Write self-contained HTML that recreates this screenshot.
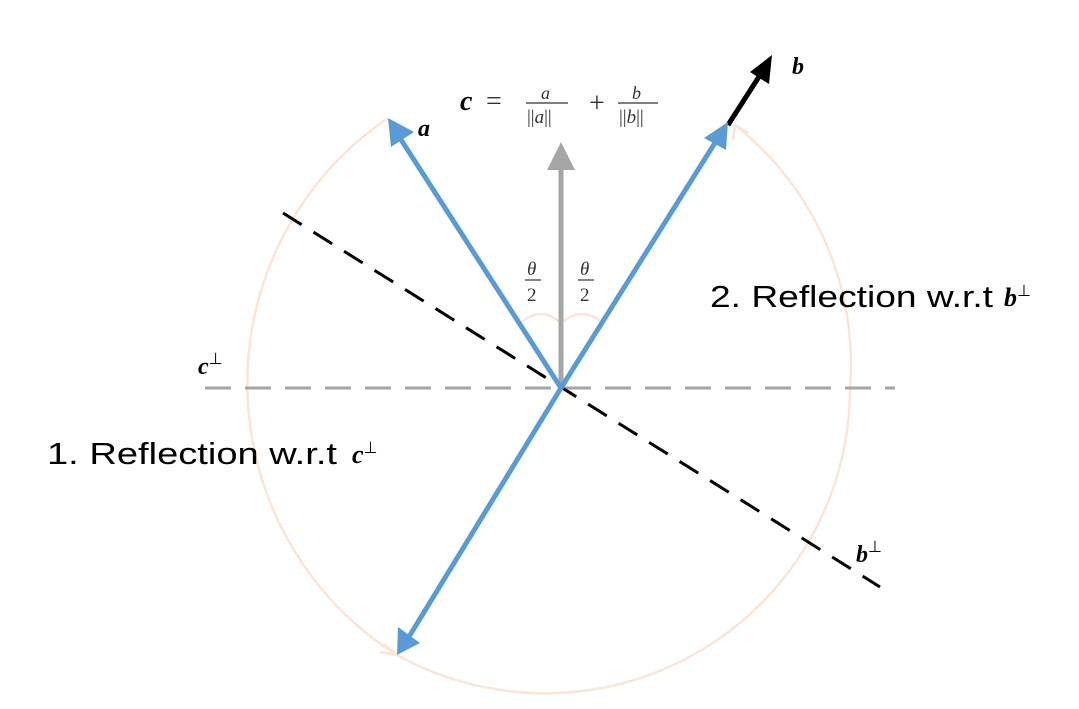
<!DOCTYPE html>
<html><head><style>body{margin:0;background:#fff}</style></head><body>
<svg width="1079" height="704" viewBox="0 0 1079 704" xmlns="http://www.w3.org/2000/svg" font-family="Liberation Serif, serif">
<path d="M388,118 A321,321 0 0 0 397,655" fill="none" stroke="#fbe5d6" stroke-width="2.5"/>
<path d="M397,655 A305,305 0 0 0 850,388 A305,305 0 0 0 735,125" fill="none" stroke="#fbe5d6" stroke-width="2.5"/>
<path d="M384,644 L397,655 L380,652" fill="none" stroke="#fbe5d6" stroke-width="2.5"/>
<path d="M733,140 L735,125 L748,133" fill="none" stroke="#fbe5d6" stroke-width="2.5"/>
<line x1="205" y1="388" x2="895" y2="388" stroke="#a6a6a6" stroke-width="3" stroke-dasharray="26,14"/>
<line x1="283" y1="213" x2="880" y2="587" stroke="#000" stroke-width="3" stroke-dasharray="22,14"/>
<path d="M521,323 Q540,305 561,323 Q582,305 603,323" fill="none" stroke="#fbe5d6" stroke-width="2.5"/>
<line x1="561" y1="388" x2="561" y2="165" stroke="#a6a6a6" stroke-width="5"/>
<path d="M547,170 L561,142 L575,170 Z" fill="#a6a6a6"/>
<line x1="728" y1="125" x2="762" y2="72" stroke="#000" stroke-width="5"/>
<path d="M750,72 L772,55 L769,84 Z" fill="#000"/>
<line x1="561" y1="388" x2="398" y2="135" stroke="#5b9bd5" stroke-width="5"/>
<path d="M388,118 L391,147 L414,132 Z" fill="#5b9bd5"/>
<line x1="561" y1="388" x2="718" y2="138" stroke="#5b9bd5" stroke-width="5"/>
<path d="M728,122 L704,138 L726,150 Z" fill="#5b9bd5"/>
<line x1="561" y1="388" x2="407" y2="640" stroke="#5b9bd5" stroke-width="5"/>
<path d="M397,655 L398,627 L420,643 Z" fill="#5b9bd5"/>
<text x="418" y="136" font-size="24" font-weight="bold" font-style="italic">a</text>
<text x="792" y="74" font-size="24" font-weight="bold" font-style="italic">b</text>
<text x="460" y="110" font-size="28" font-weight="bold" font-style="italic">c</text>
<text x="486" y="110" font-size="28" fill="#333">=</text>
<text x="541" y="99" font-size="18" font-style="italic" fill="#333">a</text>
<line x1="526" y1="103" x2="568" y2="103" stroke="#333" stroke-width="1.2"/>
<text x="527" y="123" font-size="19" fill="#333">||<tspan font-style="italic">a</tspan>||</text>
<text x="589" y="112" font-size="28" fill="#333">+</text>
<text x="632" y="99" font-size="18" font-style="italic" fill="#333">b</text>
<line x1="618" y1="103" x2="658" y2="103" stroke="#333" stroke-width="1.2"/>
<text x="619" y="123" font-size="19" fill="#333">||<tspan font-style="italic">b</tspan>||</text>
<text x="527" y="275" font-size="19" font-style="italic" fill="#333">θ</text>
<line x1="525" y1="280" x2="541" y2="280" stroke="#333" stroke-width="1.2"/>
<text x="527" y="301" font-size="19" fill="#333">2</text>
<text x="580" y="275" font-size="19" font-style="italic" fill="#333">θ</text>
<line x1="578" y1="280" x2="594" y2="280" stroke="#333" stroke-width="1.2"/>
<text x="580" y="301" font-size="19" fill="#333">2</text>
<text x="198" y="374" font-size="24" font-weight="bold" font-style="italic">c<tspan font-size="16" dy="-10" font-weight="normal" font-style="normal">⊥</tspan></text>
<text x="856" y="562" font-size="24" font-weight="bold" font-style="italic">b<tspan font-size="16" dy="-10" font-weight="normal" font-style="normal">⊥</tspan></text>
<text x="47" y="464" font-size="31" font-family="Liberation Sans, sans-serif" textLength="290" lengthAdjust="spacingAndGlyphs">1. Reflection w.r.t</text>
<text x="352" y="463" font-size="26" font-weight="bold" font-style="italic">c<tspan font-size="16" dy="-10" font-weight="normal" font-style="normal">⊥</tspan></text>
<text x="710" y="307" font-size="31" font-family="Liberation Sans, sans-serif" textLength="283" lengthAdjust="spacingAndGlyphs">2. Reflection w.r.t</text>
<text x="1004" y="306" font-size="26" font-weight="bold" font-style="italic">b<tspan font-size="16" dy="-10" font-weight="normal" font-style="normal">⊥</tspan></text>
</svg>
</body></html>
